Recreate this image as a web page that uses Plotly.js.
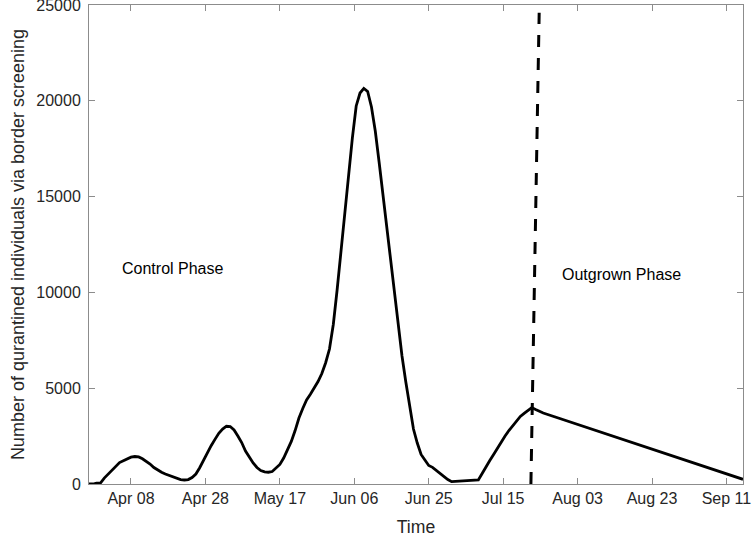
<!DOCTYPE html>
<html>
<head>
<meta charset="utf-8">
<script src="https://cdn.plot.ly/plotly-3.0.1.min.js"></script>
<style>
  html, body { margin: 0; padding: 0; background: #fff; }
  #chart { width: 754px; height: 540px; }
</style>
</head>
<body>
<div id="chart"></div>
<script>
// Quarantined individuals via border screening (daily values)
const dates = [
  '2020-03-28', '2020-03-29', '2020-03-30', '2020-03-31', '2020-04-01', '2020-04-02', '2020-04-03',
  '2020-04-04', '2020-04-05', '2020-04-06', '2020-04-07', '2020-04-08', '2020-04-09', '2020-04-10',
  '2020-04-11', '2020-04-12', '2020-04-13', '2020-04-14', '2020-04-15', '2020-04-16', '2020-04-17',
  '2020-04-18', '2020-04-19', '2020-04-20', '2020-04-21', '2020-04-22', '2020-04-23', '2020-04-24',
  '2020-04-25', '2020-04-26', '2020-04-27', '2020-04-28', '2020-04-29', '2020-04-30', '2020-05-01',
  '2020-05-02', '2020-05-03', '2020-05-04', '2020-05-05', '2020-05-06', '2020-05-07', '2020-05-08',
  '2020-05-09', '2020-05-10', '2020-05-11', '2020-05-12', '2020-05-13', '2020-05-14', '2020-05-15',
  '2020-05-16', '2020-05-17', '2020-05-18', '2020-05-19', '2020-05-20', '2020-05-21', '2020-05-22',
  '2020-05-23', '2020-05-24', '2020-05-25', '2020-05-26', '2020-05-27', '2020-05-28', '2020-05-29',
  '2020-05-30', '2020-05-31', '2020-06-01', '2020-06-02', '2020-06-03', '2020-06-04', '2020-06-05',
  '2020-06-06', '2020-06-07', '2020-06-08', '2020-06-09', '2020-06-10', '2020-06-11', '2020-06-12',
  '2020-06-13', '2020-06-14', '2020-06-15', '2020-06-16', '2020-06-17', '2020-06-18', '2020-06-19',
  '2020-06-20', '2020-06-21', '2020-06-22', '2020-06-23', '2020-06-24', '2020-06-25', '2020-06-26',
  '2020-06-27', '2020-06-28', '2020-06-29', '2020-06-30', '2020-07-01',
  '2020-07-08', '2020-07-09', '2020-07-10', '2020-07-11', '2020-07-12', '2020-07-13', '2020-07-14',
  '2020-07-15', '2020-07-16', '2020-07-17', '2020-07-18', '2020-07-19', '2020-07-20', '2020-07-21',
  '2020-07-22', '2020-07-23', '2020-07-24', '2020-07-25',
  '2020-09-15 08:00'
];
const quarantined = [
  0, 0, 40, 50, 310, 520, 730,
  940, 1120, 1215, 1315, 1400, 1435, 1410,
  1315, 1200, 1045, 860, 715, 610, 520,
  455, 375, 300, 230, 210, 230, 340,
  520, 850, 1250, 1650, 2000, 2330, 2650,
  2870, 3015, 3000, 2820, 2505, 2165, 1720,
  1385, 1095, 860, 705, 635, 615, 650,
  810, 1020, 1355, 1750, 2220, 2790, 3445,
  3940, 4385, 4680, 4985, 5350, 5765, 6330,
  7045, 8325, 10125, 12135, 14120, 16020, 18060,
  19730, 20405, 20645, 20485, 19675, 18420, 16805,
  15080, 13385, 11795, 9915, 8300, 6680, 5325,
  3965, 2870, 2140, 1540, 1250, 965, 870,
  705, 550, 390, 235, 120,
  210, 550, 915, 1225, 1540, 1880, 2165,
  2505, 2790, 3055, 3315, 3525, 3690, 3860,
  3990, 3890, 3785, 3705,
  245
];

// Phase boundary (dashed line) endpoints
const boundaryDates = ['2020-07-21 18:30', '2020-07-23 22:30'];
const boundaryValues = [0, 24600];

// Axis ticks
const xTickVals = [
  '2020-04-08', '2020-04-27 12:00', '2020-05-17', '2020-06-05 12:00', '2020-06-25',
  '2020-07-14 12:00', '2020-08-03', '2020-08-22 12:00', '2020-09-11'
];
const xTickText = ['Apr 08', 'Apr 28', 'May 17', 'Jun 06', 'Jun 25', 'Jul 15', 'Aug 03', 'Aug 23', 'Sep 11'];
const yTickVals = [0, 5000, 10000, 15000, 20000, 25000];
const yTickText = ['0', '5000', '10000', '15000', '20000', '25000'];

// Phase labels
const phaseLabels = ['Control Phase', 'Outgrown Phase'];
const phaseLabelDates = ['2020-04-19', '2020-08-14 12:00'];
const phaseLabelValues = [11270, 10930];

const FONT = 'Liberation Sans, Arial, Helvetica, sans-serif';
const AX = '#8c8c8c';

const traces = [
  {
    x: dates, y: quarantined, type: 'scatter', mode: 'lines',
    line: { color: '#000', width: 2.8 }, hoverinfo: 'skip'
  },
  {
    x: boundaryDates, y: boundaryValues, type: 'scatter', mode: 'lines',
    line: { color: '#000', width: 3, dash: '12px,11px' }, hoverinfo: 'skip'
  }
];

const layout = {
  width: 754, height: 540,
  margin: { l: 89, r: 11, t: 5, b: 56 },
  paper_bgcolor: '#fff', plot_bgcolor: '#fff',
  showlegend: false,
  font: { family: FONT, size: 16, color: '#262626' },
  xaxis: {
    type: 'date',
    range: ['2020-03-28', '2020-09-15 08:00'],
    tickmode: 'array', tickvals: xTickVals, ticktext: xTickText,
    ticks: 'inside', ticklen: 6, tickwidth: 1, tickcolor: AX,
    showline: true, linecolor: AX, linewidth: 1, mirror: 'ticks',
    showgrid: false, zeroline: false, ticklabeloverflow: 'allow',
    tickfont: { family: FONT, size: 16, color: '#262626' },
    title: { text: 'Time', font: { family: FONT, size: 17.6, color: '#262626' }, standoff: 14 }
  },
  yaxis: {
    range: [0, 25000],
    tickmode: 'array', tickvals: yTickVals, ticktext: yTickText,
    ticks: 'inside', ticklen: 6, tickwidth: 1, tickcolor: AX,
    showline: true, linecolor: AX, linewidth: 1, mirror: 'ticks',
    showgrid: false, zeroline: false, ticklabeloverflow: 'allow',
    ticklabelstandoff: 4,
    tickfont: { family: FONT, size: 16, color: '#262626' },
    title: { text: 'Number of qurantined individuals via border screening', font: { family: FONT, size: 18, color: '#262626' }, standoff: 6 }
  },
  annotations: phaseLabels.map((t, i) => ({
    text: t, x: phaseLabelDates[i], y: phaseLabelValues[i], xref: 'x', yref: 'y',
    showarrow: false, font: { family: FONT, size: 16, color: '#000' },
    xanchor: 'center', yanchor: 'middle'
  }))
};

Plotly.newPlot('chart', traces, layout, { staticPlot: true, displayModeBar: false });
</script>
</body>
</html>
